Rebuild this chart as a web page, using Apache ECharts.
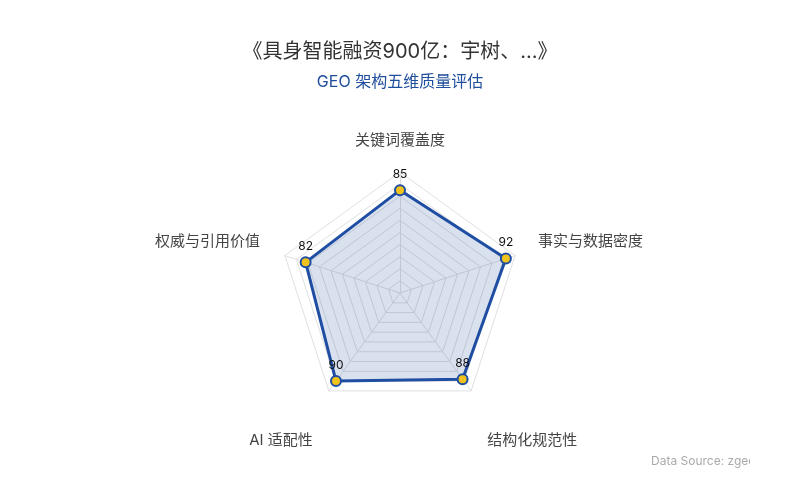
<!DOCTYPE html>
<html>
<head>
<meta charset="utf-8">
<script src="https://cdn.jsdelivr.net/npm/echarts@6/dist/echarts.min.js"></script>
<style>
  html, body { margin: 0; padding: 0; background: #fff; }
  #main { width: 800px; height: 500px; }
</style>
</head>
<body>
<div id="main"></div>
<script>
// 维度与得分（按 ECharts 逆时针顺序排列：上、左上、左下、右下、右上）
const dimensions = ['关键词覆盖度', '权威与引用价值', 'AI 适配性', '结构化规范性', '事实与数据密度'];
const scores = [85, 82, 90, 88, 92];
const maxScore = 100;

const sideNames = ['权威与引用价值', '事实与数据密度'];
const bottomNames = ['AI 适配性', '结构化规范性'];

const chart = echarts.init(document.getElementById('main'));

const nameColor = '#444';

const option = {
  backgroundColor: '#fff',
  textStyle: { fontFamily: 'Inter, "Noto Sans CJK SC", sans-serif' },
  title: {
    text: '《具身智能融资900亿：宇树、...》',
    subtext: 'GEO 架构五维质量评估',
    left: 'center',
    top: 37,
    itemGap: 12,
    textStyle: { fontSize: 20, fontWeight: 'normal', color: '#333' },
    subtextStyle: { fontSize: 16, color: '#1f4e9c' }
  },
  radar: {
    center: ['50%', '58.6%'],
    radius: 121,
    startAngle: 90,
    splitNumber: 10,
    indicator: dimensions.map(n => ({ name: n, max: maxScore, min: 0 })),
    nameGap: 24,
    axisName: {
      color: nameColor,
      fontSize: 15,
      formatter: function (name) {
        if (sideNames.indexOf(name) >= 0) return '{s|' + name + '}';
        if (bottomNames.indexOf(name) >= 0) return '{b|' + name + '}';
        return name;
      },
      rich: {
        s: { color: nameColor, fontSize: 15, padding: [0, 2, 14, 0] },
        b: { color: nameColor, fontSize: 15, padding: [60, 2, 0, 2] }
      }
    },
    splitLine: { lineStyle: { color: '#e0e0e0' } },
    splitArea: { show: false },
    axisLine: { lineStyle: { color: '#e0e0e0' } }
  },
  series: [{
    type: 'radar',
    symbol: 'circle',
    symbolSize: 10,
    data: [{
      value: scores,
      name: 'GEO 评分'
    }],
    lineStyle: { color: '#1f4ea3', width: 3 },
    itemStyle: { color: '#f2c31c', borderColor: '#1f4ea3', borderWidth: 2 },
    areaStyle: { color: 'rgba(31,78,163,0.24)' },
    label: { show: true, position: 'top', distance: 4, color: '#111', fontSize: 12 }
  }],
  graphic: [
    {
      type: 'text',
      left: 651,
      top: 455,
      style: { text: 'Data Source: zgeo', fill: '#aaa', fontSize: 12, fontFamily: 'Inter, sans-serif' },
      z: 10
    },
    {
      type: 'rect',
      left: 750,
      top: 450,
      shape: { width: 50, height: 25 },
      style: { fill: '#fff' },
      z: 11
    }
  ]
};

chart.setOption(option);
</script>
</body>
</html>
